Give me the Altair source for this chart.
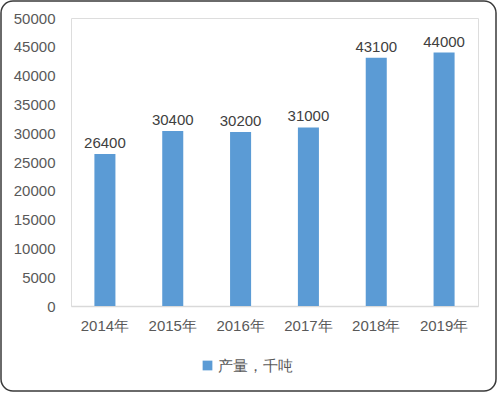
import altair as alt
import pandas as pd

years = ["2014年", "2015年", "2016年", "2017年", "2018年", "2019年"]
values = [26400, 30400, 30200, 31000, 43100, 44000]
series = "产量，千吨"
y_ticks = [0, 5000, 10000, 15000, 20000, 25000, 30000, 35000, 40000, 45000, 50000]

df = pd.DataFrame({"year": years, "value": values, "series": [series] * len(years)})

FONT = "Liberation Sans"
GRAY = "#595959"

x_enc = alt.X("year:N", sort=years, title=None,
              scale=alt.Scale(paddingInner=0.69, paddingOuter=0.345),
              axis=alt.Axis(labelAngle=0, ticks=False, domainColor="#D9D9D9", domainWidth=1.5,
                            labelColor=GRAY, labelFont=FONT, labelFontSize=15, labelPadding=12))
y_enc = alt.Y("value:Q", title=None,
              scale=alt.Scale(domain=[0, 50000], nice=False),
              axis=alt.Axis(values=y_ticks, format="d", labelOverlap=False, grid=False,
                            domain=False, ticks=False,
                            labelColor=GRAY, labelFont=FONT, labelFontSize=15, labelPadding=16))

base = alt.Chart(df)

bars = base.mark_bar(color="#5B9BD5").encode(
    x=x_enc,
    y=y_enc,
    color=alt.Color("series:N", scale=alt.Scale(range=["#5B9BD5"]), title=None,
                    legend=alt.Legend(orient="none", legendX=129, legendY=340, symbolType="square",
                                      symbolSize=95, labelFont=FONT, labelFontSize=15,
                                      labelColor=GRAY, symbolStrokeWidth=0, labelOffset=3)),
)

labels = base.mark_text(baseline="bottom", dy=-3, font=FONT, fontSize=15, color="#404040").encode(
    x=x_enc,
    y=y_enc,
    text=alt.Text("value:Q", format="d"),
)

border = alt.Chart(pd.DataFrame({"a": [0]})).mark_rect(
    fill=None, filled=False, stroke="#3a3a3a", strokeWidth=1.5, cornerRadius=12
).encode(x=alt.value(-70), x2=alt.value(425), y=alt.value(-17), y2=alt.value(373))

chart = alt.layer(bars, labels, border).properties(
    width=407, height=288,
    autosize=alt.AutoSizeParams(type="none"),
    padding={"left": 71, "top": 18, "right": 19, "bottom": 87},
).configure_view(stroke=None).configure(background="white")

chart.save("out.html", embed_options={"renderer": "svg", "actions": False})
